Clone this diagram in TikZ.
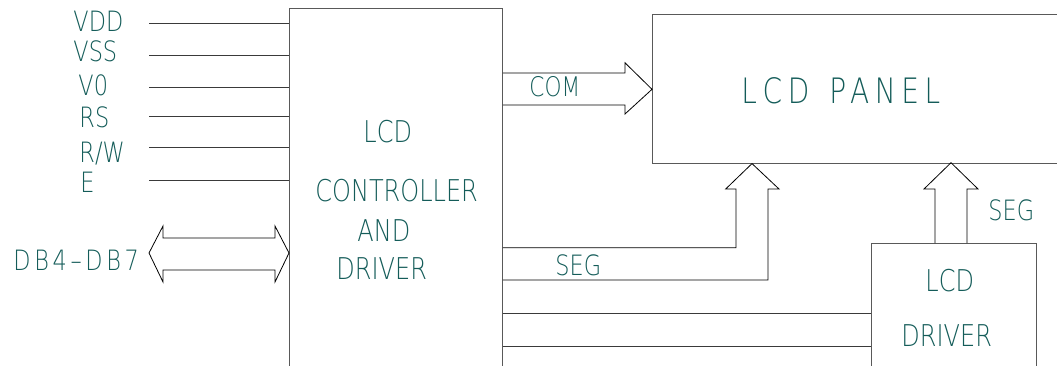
\documentclass[tikz,border=0pt]{standalone}
\usepackage{fontspec}
\newfontfamily\cad[FakeStretch=0.8]{DejaVu Sans ExtraLight}
\newfontfamily\cadwide[FakeStretch=0.8,LetterSpace=16]{DejaVu Sans ExtraLight}
\newfontfamily\cadmid[FakeStretch=0.8,LetterSpace=13]{DejaVu Sans ExtraLight}
\usetikzlibrary{calc}
\definecolor{txt}{HTML}{145C59}
\definecolor{ln}{HTML}{3A3A3A}
\begin{document}
\begin{tikzpicture}[x=1pt,y=-1pt,line width=0.9pt,
  lbl/.style={text=txt,font=\cad\fontsize{28}{30}\selectfont,inner sep=0pt,anchor=base west},
  big/.style={text=txt,font=\cad\fontsize{30}{32}\selectfont,inner sep=0pt,anchor=base west},
  blk/.style={draw=none,inner sep=0pt,anchor=north west},
  wire/.style={draw=ln,line width=0.9pt},
  boxline/.style={draw=black!65,line width=1pt},
  barrow/.style={draw=black,line width=0.8pt,line join=miter}]
\useasboundingbox (0,0) rectangle (1057,366);

% blocks
\node[blk,minimum width=213pt,minimum height=357pt] (ctrl) at (289,9) {};
\node[blk,minimum width=405pt,minimum height=147.7pt] (panel) at (652,15) {};
\node[blk,minimum width=165pt,minimum height=123pt] (drv) at (871,243) {};
\draw[boxline] (ctrl.south west) -- (ctrl.north west) -- (ctrl.north east) -- (ctrl.south east);
\draw[boxline] (panel.north east) -- (panel.north west) -- (panel.south west) -- (panel.south east);
\draw[boxline] (drv.south west) -- (drv.north west) -- (drv.north east) -- (drv.south east);

% input pins
\foreach \n/\y in {vdd/23.5,vss/55.3,vo/87.7,rs/116,rw/147.7,e/180}{
  \coordinate (\n) at (149,\y);
  \draw[wire] (\n) -- (ctrl.west |- \n);
}
\node[lbl] (tvdd) at (73,32) {VDD};
\node[lbl] (tvss) at (73,62) {VSS};
\node[lbl] (tvo) at (78,96) {V0};
\node[lbl] (trs) at (79,128) {RS};
\node[lbl] (trw) at (79,163) {R/W};
\node[lbl] (te) at (80,193) {E};

% data bus double arrow
\coordinate (dbl) at (149,253);
\coordinate (dbr) at (ctrl.west |- dbl);
\draw[barrow] (dbl) -- ++(14,-27) -- ++(0,12) -- ($(dbr)+(-14,-15)$) -- ($(dbr)+(-14,-27)$) -- (dbr)
  -- ($(dbr)+(-14,29)$) -- ($(dbr)+(-14,17)$) -- ($(dbl)+(14,17)$) -- ($(dbl)+(14,29)$) -- cycle;
\node[lbl,font=\cadmid\fontsize{28}{30}\selectfont] (tdb) at (13,270) {DB4\textendash DB7};

% controller text
\node[big] (c1) at (363,143) {LCD};
\node[big] (c2) at (315,201) {CONTROLLER};
\node[big] (c3) at (357,241) {AND};
\node[big] (c4) at (336,279) {DRIVER};

% COM arrow
\coordinate (comtip) at (panel.west);
\coordinate (coms) at (ctrl.east |- comtip);
\draw[barrow] ($(coms)+(0,-16.3)$) -- ($(comtip)+(-27,-16.3)$) -- ($(comtip)+(-27,-26.5)$) -- (comtip)
  -- ($(comtip)+(-27,24.7)$) -- ($(comtip)+(-27,15.7)$) -- ($(coms)+(0,15.7)$);
\node[lbl,font=\cad\fontsize{27}{29}\selectfont] (tcom) at (529,97) {COM};

% SEG arrow from controller to panel
\coordinate (s1tip) at ($(panel.south west)+(100,0)$);
\draw[barrow] (ctrl.east |- 0,247.7) -- (736,247.7) -- (736,189) -- (725.7,189) -- (s1tip)
  -- (779,189) -- (768,189) -- (768,280) -- (ctrl.east |- 0,280);
\node[lbl] (tseg1) at (555,275) {SEG};

% SEG arrow from driver to panel
\coordinate (s2tip) at (951,162.7);
\draw[barrow] (935,243) -- (935,189) -- (924,189) -- (s2tip) -- (978,189) -- (967,189) -- (967,243);
\node[lbl] (tseg2) at (988,221) {SEG};

% lines controller to driver
\draw[wire] (ctrl.east |- 0,313.7) -- (drv.west |- 0,313.7);
\draw[wire] (ctrl.east |- 0,346) -- (drv.west |- 0,346);

% panel text
\node[lbl,font=\cadwide\fontsize{35}{37}\selectfont] (tpanel) at (741,104) {LCD\hspace{20pt}PANEL};

% driver text
\node[big] (d1) at (925,291) {LCD};
\node[big] (d2) at (901,346) {DRIVER};
\end{tikzpicture}
\end{document}
